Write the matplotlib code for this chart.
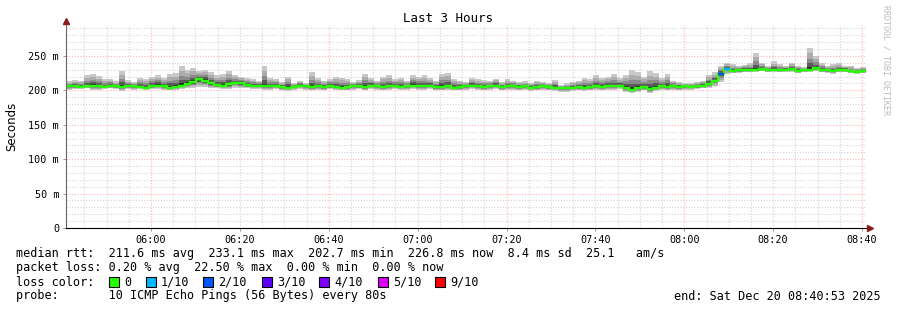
import numpy as np
import matplotlib.pyplot as plt
from matplotlib.patches import Rectangle

# time: minutes since midnight, one step every 80 s, from 05:40:53 to 08:40:53
start = 5 * 60 + 40 + 53 / 60.0
step_min = 80 / 60.0

median = [206, 206, 205, 206, 207, 206, 205, 207, 206, 205, 206, 207, 205, 204, 206,
          207, 206, 204, 205, 207, 209, 212, 216, 214, 210, 208, 207, 209, 211, 210,
          208, 207, 207, 206, 206, 207, 205, 204, 205, 207, 206, 205, 206, 205, 206,
          205, 204, 205, 206, 206, 205, 207, 206, 205, 206, 207, 205, 206, 207, 206,
          206, 207, 205, 205, 206, 204, 205, 206, 207, 206, 205, 206, 207, 205, 206,
          206, 205, 206, 204, 205, 206, 205, 204, 203, 203, 204, 205, 204, 205, 206,
          205, 206, 206, 207, 204, 201, 203, 205, 202, 204, 206, 205, 206, 205, 206,
          205, 206, 207, 209, 214, 224, 231, 228, 229, 230, 229, 230, 231, 229, 230,
          229, 230, 231, 228, 229, 230, 232, 230, 229, 228, 229, 230, 228, 227, 228]
hi = [213, 215, 214, 222, 224, 221, 216, 216, 213, 228, 215, 212, 218, 217, 220,
      222, 218, 224, 225, 236, 230, 233, 228, 230, 226, 222, 224, 228, 222, 220,
      218, 216, 214, 235, 218, 216, 212, 220, 210, 213, 211, 226, 218, 214, 217,
      220, 218, 216, 212, 215, 224, 218, 214, 220, 222, 216, 218, 214, 222, 220,
      222, 218, 214, 224, 225, 216, 214, 212, 218, 216, 215, 214, 217, 212, 216,
      214, 212, 213, 211, 214, 212, 210, 215, 208, 210, 212, 214, 218, 216, 222,
      218, 220, 224, 218, 222, 230, 226, 220, 228, 225, 218, 224, 214, 212, 210,
      210, 212, 214, 222, 226, 236, 240, 238, 236, 237, 240, 255, 240, 236, 242,
      238, 236, 240, 236, 234, 262, 250, 240, 236, 238, 240, 236, 235, 233, 234]
lo = [201, 202, 202, 203, 201, 200, 202, 203, 202, 199, 202, 201, 202, 201, 202,
      202, 201, 200, 201, 202, 203, 204, 205, 205, 203, 203, 202, 202, 204, 204,
      203, 202, 202, 201, 201, 202, 200, 199, 201, 202, 201, 200, 201, 200, 202,
      201, 200, 200, 201, 202, 200, 202, 201, 200, 201, 202, 201, 201, 202, 201,
      201, 202, 200, 200, 201, 200, 200, 201, 202, 201, 200, 201, 202, 200, 201,
      201, 200, 201, 199, 200, 201, 200, 199, 198, 198, 199, 200, 199, 200, 201,
      200, 201, 201, 202, 198, 196, 198, 200, 196, 199, 201, 200, 201, 200, 201,
      201, 202, 203, 204, 206, 212, 224, 225, 225, 226, 226, 227, 228, 226, 227,
      226, 227, 227, 225, 226, 227, 228, 226, 225, 224, 226, 226, 225, 224, 225]
# lost pings per step (out of 10)
loss = [0] * 135
loss[110] = 2
loss[111] = 1

loss_labels = ['0', '1/10', '2/10', '3/10', '4/10', '5/10', '9/10']
loss_colors = ['#26ff00', '#00b8ff', '#0059ff', '#5e00ff', '#7e00ff', '#dd00ff', '#ff0000']
loss_steps = [0, 1, 2, 3, 4, 5, 9]
legend_x = [109, 146, 203, 262, 319, 378, 435]

median = np.array(median, float)
hi = np.array(hi, float)
lo = np.array(lo, float)
edges = start + np.arange(len(median) + 1) * step_min

fig = plt.figure(figsize=(8.97, 3.10), dpi=100)
ax = fig.add_axes([66 / 897, 82 / 310, 800 / 897, 203 / 310])
mono = 'DejaVu Sans Mono'

# smoke: shades from outside to inside
shades = [(1.0, '#c8c8c8'), (0.75, '#acacac'), (0.5, '#8a8a8a'), (0.3, '#595959'), (0.12, '#262626')]
for f, c in shades:
    top = median + f * (hi - median)
    bot = median - f * (median - lo)
    ax.stairs(top, edges, baseline=bot, fill=True, color=c, lw=0, zorder=2)

# median line coloured by loss
ax.stairs(median, edges, baseline=None, color=loss_colors[0], lw=1.6, zorder=3)
for i in range(len(median)):
    c = loss_colors[loss_steps.index(loss[i])]
    ax.hlines(median[i], edges[i], edges[i + 1], color=c, lw=1.6, zorder=4)

ax.set_xlim(start, start + 180)
ax.set_ylim(0, 295)

# grids
for y in range(10, 295, 10):
    col = '#ffb3b3' if y % 50 == 0 else '#d4d4d4'
    ax.axhline(y, color=col, lw=0.8, ls=(0, (1, 1.5)), zorder=1)
for m in range(int(start) + 4, int(start + 181)):
    if m % 5:
        continue
    col = '#ffb3b3' if m % 40 == 0 else '#d4d4d4'
    ax.axvline(m, color=col, lw=0.8, ls=(0, (1, 1.5)), zorder=1)

yt = [0, 50, 100, 150, 200, 250]
ax.set_yticks(yt)
ax.set_yticklabels(['0'] + ['%d m' % v for v in yt[1:]], family=mono, fontsize=7.3)
xt = list(range(360, 521, 20))
ax.set_xticks(xt)
ax.set_xticklabels(['%02d:%02d' % (v // 60, v % 60) for v in xt], family=mono, fontsize=7.3)
ax.tick_params(axis='both', length=2, width=0.6, color='#888888', pad=3)

for s in ['top', 'right']:
    ax.spines[s].set_visible(False)
ax.spines['left'].set_color('#666666')
ax.spines['bottom'].set_color('black')
ax.spines['left'].set_zorder(6)
ax.spines['bottom'].set_zorder(6)

# arrows
ax.plot([0], [1.02], marker='^', color='#8b1a1a', ms=4, transform=ax.transAxes, clip_on=False)
ax.plot([1.005], [0], marker='>', color='#8b1a1a', ms=4, transform=ax.transAxes, clip_on=False)

ax.set_ylabel('Seconds', fontsize=8.5, labelpad=7)
fig.text(448 / 897, 1 - 19 / 310, 'Last 3 Hours', ha='center', va='center', family=mono, fontsize=9)
fig.text(886 / 897, 1 - 5 / 310, 'RRDTOOL / TOBI OETIKER', rotation=270, ha='center', va='top',
         family=mono, fontsize=6, color='#bbbbbb')

fs = 8.5
fig.text(16 / 897, 1 - 254 / 310,
         'median rtt:  211.6 ms avg  233.1 ms max  202.7 ms min  226.8 ms now  8.4 ms sd  25.1   am/s',
         family=mono, fontsize=fs, va='center')
fig.text(16 / 897, 1 - 268 / 310,
         'packet loss: 0.20 % avg  22.50 % max  0.00 % min  0.00 % now',
         family=mono, fontsize=fs, va='center')
fig.text(16 / 897, 1 - 282 / 310, 'loss color:', family=mono, fontsize=fs, va='center')
for x0, lab, c in zip(legend_x, loss_labels, loss_colors):
    fig.patches.append(Rectangle((x0 / 897, 1 - 287 / 310), 10 / 897, 10 / 310, transform=fig.transFigure,
                                 facecolor=c, edgecolor='black', lw=0.8))
    fig.text((x0 + 15) / 897, 1 - 282 / 310, lab, family=mono, fontsize=fs, va='center')
fig.text(16 / 897, 1 - 296 / 310, 'probe:       10 ICMP Echo Pings (56 Bytes) every 80s',
         family=mono, fontsize=fs, va='center')
fig.text(881 / 897, 1 - 296 / 310, 'end: Sat Dec 20 08:40:53 2025', family=mono, fontsize=fs,
         va='center', ha='right')

fig.savefig('out.png', dpi=100, facecolor='white')
